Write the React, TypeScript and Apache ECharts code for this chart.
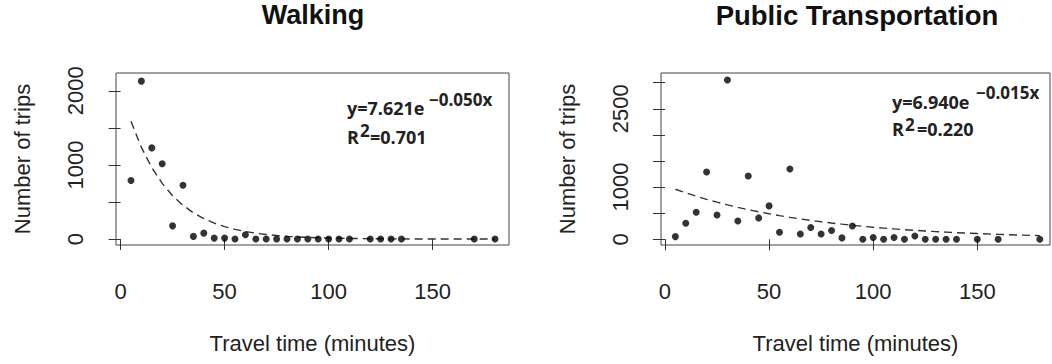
import React, { useEffect, useRef } from "react";
import * as echarts from "echarts";

// ---------- Walking ----------
const walkTime = [5, 10, 15, 20, 25, 30, 35, 40, 45, 50, 55, 60, 65, 70, 75, 80, 85, 90, 95, 100, 105, 110, 120, 125, 130, 135, 170, 180];
const walkTrips = [790, 2130, 1230, 1016, 178, 726, 36, 80, 13, 13, 0, 58, 0, 0, 0, 0, 0, 0, 0, 0, 0, 0, 0, 0, 0, 0, 0, 0];
const walkFit = [1588, 1237, 964, 751, 585, 455, 355, 276, 215, 168, 130, 102, 79, 62, 48, 37, 29, 23, 18, 14, 11, 8, 5, 4, 3, 2, 0.4, 0.2];

// ---------- Public transportation ----------
const ptTime = [5, 10, 15, 20, 25, 30, 35, 40, 45, 50, 55, 60, 65, 70, 75, 80, 85, 90, 95, 100, 105, 110, 115, 120, 125, 130, 135, 140, 150, 160, 180];
const ptTrips = [51, 306, 517, 1290, 466, 3052, 351, 1213, 409, 639, 134, 1347, 102, 224, 102, 166, 26, 255, 0, 32, 0, 32, 0, 64, 0, 0, 0, 0, 0, 0, 0];
const ptFit = [958, 889, 825, 765, 710, 659, 611, 567, 526, 488, 453, 420, 390, 362, 335, 311, 289, 268, 248, 230, 214, 198, 184, 171, 158, 147, 136, 126, 109, 94, 69];

// ---------- ticks / labels ----------
const xTicks = [0, 50, 100, 150];
const walkYTicks = [0, 500, 1000, 1500, 2000];
const walkYLabels = [0, 1000, 2000];
const ptYTicks = [0, 500, 1000, 1500, 2000, 2500, 3000];
const ptYLabels = [0, 1000, 2500];

const titles = ["Walking", "Public Transportation"];
const xName = "Travel time (minutes)";
const yName = "Number of trips";
const walkEq = { main: "y=7.621e", sup: "\u22120.050x", r: "R", r2: "2", rv: "=0.701" };
const ptEq = { main: "y=6.940e", sup: "\u22120.015x", r: "R", r2: "2", rv: "=0.220" };

const FONT = "Liberation Sans, Arial, sans-serif";
const EQFONT = "'Open Sans', sans-serif";

function zip(xs: number[], ys: number[]) {
  return xs.map((x, i) => [x, ys[i]]);
}

export default function App() {
  const ref = useRef<HTMLDivElement>(null);
  useEffect(() => {
    if (!ref.current) return;
    const chart = echarts.init(ref.current, undefined, { renderer: "svg" });

    const gridBase = {
      top: 73,
      height: 172,
      show: true,
      borderColor: "#444",
      borderWidth: 1,
      backgroundColor: "transparent",
      containLabel: false,
    };

    const xAxisBase = (gridIndex: number, min: number, max: number) => ({
      gridIndex,
      type: "value",
      min,
      max,
      offset: 3,
      axisLine: { show: false },
      splitLine: { show: false },
      axisTick: { show: true, length: 11, customValues: xTicks, lineStyle: { color: "#333", width: 1 } },
      axisLabel: { customValues: xTicks, fontSize: 22, color: "#222", margin: 32, fontFamily: FONT, formatter: (v: number) => String(v) },
      name: xName,
      nameLocation: "middle",
      nameGap: 84,
      nameMoveOverlap: false,
      nameTextStyle: { fontSize: 22, color: "#222", fontFamily: FONT },
    });

    const yAxisBase = (gridIndex: number, min: number, max: number, ticks: number[], labels: number[]) => ({
      gridIndex,
      type: "value",
      min,
      max,
      axisLine: { show: false },
      splitLine: { show: false },
      axisTick: { show: true, length: 12, customValues: ticks, lineStyle: { color: "#333", width: 1 } },
      axisLabel: { customValues: labels, fontSize: 22, color: "#222", margin: 30, rotate: 90, fontFamily: FONT, formatter: (v: number) => String(v) },
      name: yName,
      nameLocation: "middle",
      nameGap: 83,
      nameRotate: 90,
      nameMoveOverlap: false,
      nameTextStyle: { fontSize: 22, color: "#222", fontFamily: FONT },
    });

    const eqTexts = (eq: typeof walkEq, p: { x: number; y: number; sx: number; sy: number; rY: number; r2x: number; r2y: number; rvx: number }) => [
      { type: "text", x: p.x, y: p.y, style: { text: eq.main, font: `bold 18px ${EQFONT}`, fill: "#222", verticalAlign: "middle", align: "left" } },
      { type: "text", x: p.sx, y: p.sy, style: { text: eq.sup, font: `bold 17px ${EQFONT}`, fill: "#222", verticalAlign: "middle", align: "left" } },
      { type: "text", x: p.x, y: p.rY, style: { text: eq.r, font: `bold 18px ${EQFONT}`, fill: "#222", verticalAlign: "middle", align: "left" } },
      { type: "text", x: p.r2x, y: p.r2y, style: { text: eq.r2, font: `bold 17px ${EQFONT}`, fill: "#222", verticalAlign: "middle", align: "left" } },
      { type: "text", x: p.rvx, y: p.rY, style: { text: eq.rv, font: `bold 18px ${EQFONT}`, fill: "#222", verticalAlign: "middle", align: "left" } },
    ];

    const option = {
      animation: false,
      backgroundColor: "#fff",
      textStyle: { fontFamily: FONT },
      grid: [
        { ...gridBase, left: 116, width: 393 },
        { ...gridBase, left: 661, width: 389 },
      ],
      xAxis: [xAxisBase(0, -2.2, 186.7), xAxisBase(1, -1.9, 184.9)],
      yAxis: [
        yAxisBase(0, -80, 2240, walkYTicks, walkYLabels),
        yAxisBase(1, -110, 3185, ptYTicks, ptYLabels),
      ],
      graphic: [
        { type: "text", x: 313, y: 15, style: { text: titles[0], font: `bold 27px ${FONT}`, fill: "#111", align: "center", verticalAlign: "middle" } },
        { type: "text", x: 857, y: 15, style: { text: titles[1], font: `bold 27.5px ${FONT}`, fill: "#111", align: "center", verticalAlign: "middle" } },
        ...eqTexts(walkEq, { x: 347, y: 107.5, sx: 429, sy: 99, rY: 136.5, r2x: 360, r2y: 130, rvx: 370 }),
        ...eqTexts(ptEq, { x: 892, y: 101.5, sx: 976, sy: 92, rY: 129, r2x: 905, r2y: 124.5, rvx: 917 }),
      ],
      series: [
        {
          type: "line",
          xAxisIndex: 0,
          yAxisIndex: 0,
          data: zip(walkTime, walkFit),
          showSymbol: false,
          lineStyle: { color: "#333", width: 1.4, type: [8, 5] },
          z: 1,
        },
        {
          type: "scatter",
          xAxisIndex: 0,
          yAxisIndex: 0,
          data: zip(walkTime, walkTrips),
          symbolSize: 7,
          itemStyle: { color: "#000" },
          z: 2,
        },
        {
          type: "line",
          xAxisIndex: 1,
          yAxisIndex: 1,
          data: zip(ptTime, ptFit),
          showSymbol: false,
          lineStyle: { color: "#333", width: 1.4, type: [8, 5] },
          z: 1,
        },
        {
          type: "scatter",
          xAxisIndex: 1,
          yAxisIndex: 1,
          data: zip(ptTime, ptTrips),
          symbolSize: 7,
          itemStyle: { color: "#000" },
          z: 2,
        },
      ],
    };

    chart.setOption(option as any);
    return () => chart.dispose();
  }, []);

  return (
    <div
      ref={ref}
      style={{ position: "fixed", left: 0, top: 0, width: 1052, height: 364, background: "#fff" }}
    />
  );
}
